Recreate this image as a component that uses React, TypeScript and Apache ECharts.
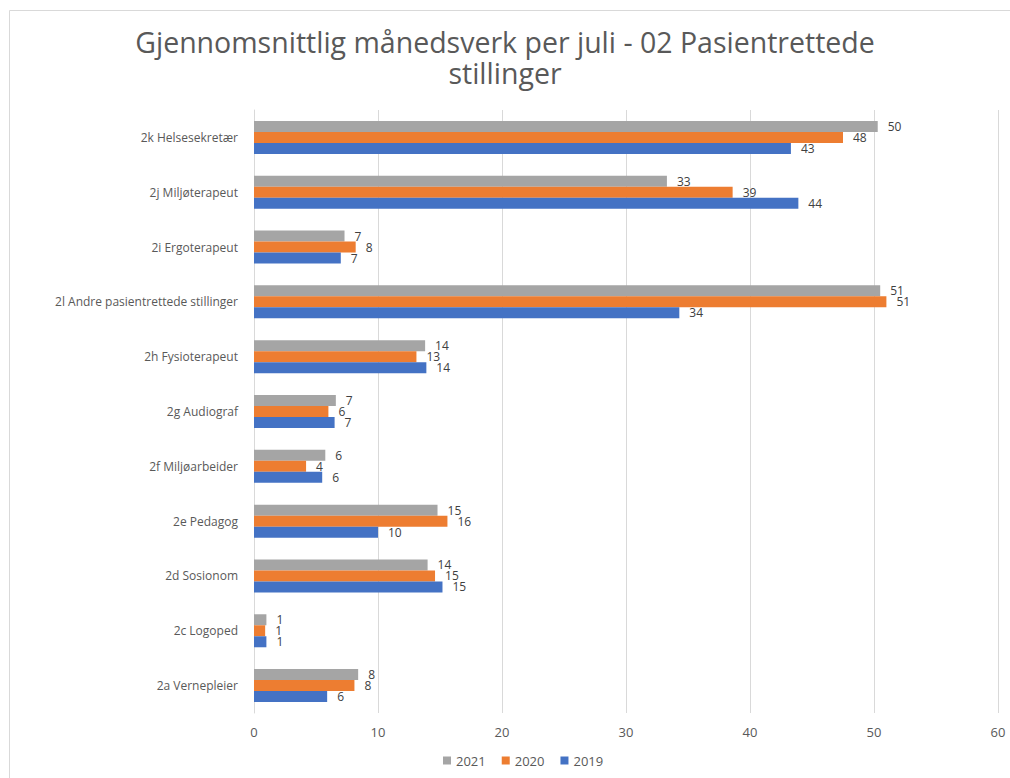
import React, { useEffect, useRef } from "react";
import * as echarts from "echarts";

const categories = [
  "2a Vernepleier",
  "2c Logoped",
  "2d Sosionom",
  "2e Pedagog",
  "2f Miljøarbeider",
  "2g Audiograf",
  "2h Fysioterapeut",
  "2l Andre pasientrettede stillinger",
  "2i Ergoterapeut",
  "2j Miljøterapeut",
  "2k Helsesekretær",
];

const values2019 = [5.9, 1.0, 15.2, 10.0, 5.5, 6.5, 13.9, 34.3, 7.0, 43.9, 43.3];
const values2020 = [8.1, 0.9, 14.6, 15.6, 4.2, 6.0, 13.1, 51.0, 8.2, 38.6, 47.5];
const values2021 = [8.4, 1.0, 14.0, 14.8, 5.75, 6.6, 13.8, 50.5, 7.3, 33.3, 50.3];

const xTicks = { min: 0, max: 60, interval: 10 };

const titleText = "Gjennomsnittlig månedsverk per juli - 02 Pasientrettede\nstillinger";

export default function App() {
  const ref = useRef<HTMLDivElement>(null);
  useEffect(() => {
    if (!ref.current) return;
    const chart = echarts.init(ref.current, null, { renderer: "svg" });
    const font = "'Open Sans', 'Noto Sans', sans-serif";
    const mkSeries = (name: string, data: number[], color: string) => ({
      name,
      type: "bar",
      data,
      barWidth: 11,
      barGap: "0%",
      barCategoryGap: "40%",
      itemStyle: { color },
      label: {
        show: true,
        position: "right",
        distance: 10,
        color: "#404040",
        fontSize: 12,
        lineHeight: 11,
        fontFamily: font,
        formatter: (p: any) => String(Math.round(p.value)),
      },
    });
    chart.setOption({
      animation: false,
      backgroundColor: "#ffffff",
      title: {
        text: titleText,
        left: "center",
        top: 21,
        textStyle: {
          fontSize: 28.5,
          fontWeight: "normal",
          color: "#595959",
          fontFamily: font,
          lineHeight: 31,
        },
      },
      graphic: [
        {
          type: "rect",
          shape: { x: 9.5, y: 10.5, width: 1010, height: 800 },
          style: { fill: "none", stroke: "#d9d9d9", lineWidth: 1 },
          silent: true,
        },
      ],
      legend: {
        data: ["2021", "2020", "2019"],
        bottom: 6,
        left: 438,
        itemWidth: 8,
        itemHeight: 8,
        itemGap: 16,
        icon: "rect",
        textStyle: { color: "#595959", fontSize: 13, fontFamily: font },
      },
      grid: { left: 254, right: 12, top: 110, bottom: 65, containLabel: false },
      xAxis: {
        type: "value",
        min: xTicks.min,
        max: xTicks.max,
        interval: xTicks.interval,
        axisLine: { show: false },
        axisTick: { show: false },
        splitLine: { lineStyle: { color: "#d9d9d9", width: 1 } },
        axisLabel: { color: "#595959", fontSize: 13, fontFamily: font, margin: 12 },
      },
      yAxis: {
        type: "category",
        data: categories,
        axisLine: { show: true, lineStyle: { color: "#d9d9d9" } },
        axisTick: { show: false },
        axisLabel: { color: "#595959", fontSize: 12, fontFamily: font, margin: 16 },
      },
      series: [
        mkSeries("2021", values2021, "#a5a5a5"),
        mkSeries("2020", values2020, "#ed7d31"),
        mkSeries("2019", values2019, "#4472c4"),
      ],
    });
    return () => chart.dispose();
  }, []);
  return (
    <div
      ref={ref}
      style={{ position: "fixed", left: 0, top: 0, width: 1010, height: 778 }}
    />
  );
}
